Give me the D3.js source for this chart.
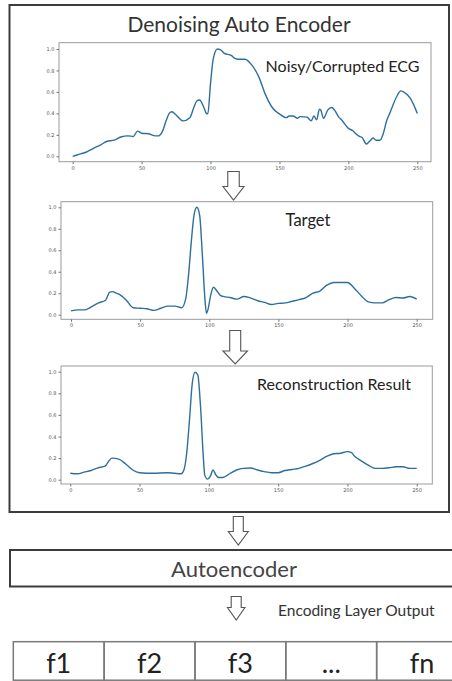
<!DOCTYPE html>
<html>
<head>
<meta charset="utf-8">
<script src="https://cdn.jsdelivr.net/npm/d3@7"></script>
<style>
  html, body { margin: 0; padding: 0; background: #fff; }
  svg { display: block; }
</style>
</head>
<body>
<svg id="chart" width="452" height="681"></svg>
<script>
// ---------------- DATA ----------------
const title = "Denoising Auto Encoder";
const panelLabels = ["Noisy/Corrupted ECG", "Target", "Reconstruction Result"];
const xTicks = [0, 50, 100, 150, 200, 250];
const yTicks = [0.0, 0.2, 0.4, 0.6, 0.8, 1.0];

const noisyX = [0,5,10,15,20,25,30,35,40,44,47,50,55,60,62,65,68,70,72,75,80,85,88,90,92,95,97,98,100,102,105,107,110,115,118,120,125,130,135,140,145,150,155,157,160,163,165,170,173,175,177,179,180,182,185,188,190,193,195,200,203,205,208,210,213,215,218,220,223,225,228,230,235,238,240,245,250];
const noisyY = [0.0,0.02,0.04,0.075,0.105,0.14,0.15,0.18,0.19,0.185,0.235,0.215,0.21,0.19,0.19,0.23,0.34,0.40,0.415,0.385,0.33,0.36,0.46,0.515,0.525,0.46,0.40,0.395,0.68,0.91,1.0,0.995,0.96,0.94,0.91,0.905,0.905,0.85,0.74,0.57,0.45,0.395,0.36,0.375,0.375,0.355,0.37,0.365,0.33,0.375,0.34,0.44,0.43,0.355,0.43,0.455,0.43,0.365,0.34,0.26,0.24,0.215,0.185,0.175,0.115,0.135,0.17,0.15,0.15,0.2,0.34,0.40,0.555,0.61,0.60,0.54,0.40];

const targetX = [0,5,10,15,20,25,28,30,33,35,40,45,50,55,60,65,70,75,80,83,85,87,89,91,93,95,97,98,99,101,103,105,108,110,115,120,125,130,135,140,145,150,155,160,165,170,175,180,185,190,195,200,205,210,215,220,225,230,235,240,245,250];
const targetY = [0.035,0.045,0.045,0.075,0.11,0.135,0.21,0.215,0.20,0.19,0.135,0.065,0.06,0.055,0.04,0.06,0.08,0.08,0.065,0.15,0.37,0.68,0.93,1.0,0.93,0.555,0.12,0.012,0.045,0.18,0.255,0.23,0.18,0.17,0.16,0.145,0.17,0.155,0.13,0.115,0.095,0.105,0.11,0.125,0.14,0.16,0.2,0.22,0.275,0.30,0.30,0.30,0.245,0.175,0.12,0.11,0.11,0.14,0.16,0.155,0.17,0.145];

const reconX = [0,5,10,15,20,25,28,30,35,40,45,50,60,70,75,80,82,84,86,88,90,92,94,96,97,99,101,103,105,107,110,115,120,125,130,135,140,145,150,155,160,165,170,175,180,185,190,195,200,203,205,210,215,220,225,230,235,240,245,250];
const reconY = [0.06,0.055,0.07,0.085,0.11,0.125,0.175,0.2,0.19,0.145,0.09,0.065,0.06,0.065,0.06,0.055,0.09,0.245,0.55,0.89,0.995,0.97,0.675,0.21,0.045,0.005,0.03,0.09,0.045,0.02,0.02,0.055,0.09,0.105,0.108,0.09,0.075,0.065,0.065,0.085,0.095,0.105,0.125,0.15,0.18,0.215,0.24,0.245,0.26,0.25,0.22,0.175,0.135,0.105,0.105,0.11,0.12,0.12,0.105,0.105];

const features = ["f1", "f2", "f3", "...", "fn"];
const autoencoderLabel = "Autoencoder";
const encodingLabel = "Encoding Layer Output";

// ---------------- LAYOUT ----------------
const svg = d3.select("#chart");
const FONT = "Lato, 'Open Sans', sans-serif";
const lineColor = "#2d6f9c";

// outer box
svg.append("rect").attr("x", 9.5).attr("y", 5).attr("width", 439.5).attr("height", 507)
  .attr("fill", "none").attr("stroke", "#3c3c3c").attr("stroke-width", 2);

svg.append("text").attr("x", 239).attr("y", 32).attr("text-anchor", "middle")
  .attr("font-family", FONT).attr("font-size", 21).attr("fill", "#333").text(title);

const panels = [
  { frame: [59, 42.7, 431, 161.7], xr: [72.7, 417.3], yr: [156.3, 49], xs: noisyX, ys: noisyY,
    label: panelLabels[0], lx: 342.5, ly: 72, lsize: 16 },
  { frame: [61, 201.7, 432.7, 319.3], xr: [71, 416.7], yr: [314.7, 207.3], xs: targetX, ys: targetY,
    label: panelLabels[1], lx: 308, ly: 225.5, lsize: 16.5 },
  { frame: [61, 366, 432.3, 484], xr: [70.3, 416.7], yr: [479.7, 371.7], xs: reconX, ys: reconY,
    label: panelLabels[2], lx: 334, ly: 389.5, lsize: 16 }
];

panels.forEach(p => {
  const [x0, y0, x1, y1] = p.frame;
  const x = d3.scaleLinear().domain([0, 250]).range(p.xr);
  const y = d3.scaleLinear().domain([0, 1]).range(p.yr);
  const g = svg.append("g");

  const line = d3.line().x((d, i) => x(p.xs[i])).y(d => y(d)).curve(d3.curveMonotoneX);
  g.append("path").datum(p.ys).attr("d", line).attr("fill", "none")
    .attr("stroke", lineColor).attr("stroke-width", 1.4).attr("stroke-linejoin", "round");

  g.append("rect").attr("x", x0).attr("y", y0).attr("width", x1 - x0).attr("height", y1 - y0)
    .attr("fill", "none").attr("stroke", "#9a9a9a").attr("stroke-width", 1);

  const xa = g.append("g").attr("transform", `translate(0,${y1})`)
    .call(d3.axisBottom(x).tickValues(xTicks).tickSize(2.5).tickPadding(2).tickFormat(d3.format("d")));
  const ya = g.append("g").attr("transform", `translate(${x0},0)`)
    .call(d3.axisLeft(y).tickValues(yTicks).tickSize(2.5).tickPadding(2).tickFormat(d3.format(".1f")));
  [xa, ya].forEach(a => {
    a.select(".domain").remove();
    a.selectAll("line").attr("stroke", "#777");
    a.selectAll("text").attr("font-family", "'DejaVu Sans', sans-serif").attr("font-size", 5).attr("fill", "#555");
  });

  g.append("text").attr("x", p.lx).attr("y", p.ly).attr("text-anchor", "middle")
    .attr("font-family", FONT).attr("font-size", p.lsize).attr("fill", "#222").text(p.label);
});

// hollow block arrows
function arrow(cx, top, headY, tip, shaftW, headW) {
  const d = [
    [cx - shaftW / 2, top], [cx + shaftW / 2, top], [cx + shaftW / 2, headY],
    [cx + headW / 2, headY], [cx, tip], [cx - headW / 2, headY], [cx - shaftW / 2, headY]
  ];
  svg.append("path").attr("d", d3.line()(d) + "Z").attr("fill", "#fff")
    .attr("stroke", "#555").attr("stroke-width", 1.1).attr("stroke-linejoin", "miter");
}
arrow(233.5, 171.5, 186.5, 200, 11.5, 21);
arrow(235.2, 330.5, 351, 364, 11, 24.5);
arrow(238.3, 516.5, 531.5, 545, 10, 20);
arrow(236.2, 596.5, 607.5, 620, 10, 17.5);

// autoencoder box
svg.append("rect").attr("x", 10).attr("y", 550).attr("width", 450).attr("height", 36.5)
  .attr("fill", "none").attr("stroke", "#3c3c3c").attr("stroke-width", 2);
svg.append("text").attr("x", 234).attr("y", 577).attr("text-anchor", "middle")
  .attr("font-family", FONT).attr("font-size", 22).attr("fill", "#444").text(autoencoderLabel);

svg.append("text").attr("x", 278).attr("y", 615.5).attr("font-family", FONT)
  .attr("font-size", 15.5).attr("fill", "#333").text(encodingLabel);

// features row
const fx = d3.scaleBand().domain(features).range([13.3, 467.5]);
const fg = svg.append("g");
fg.selectAll("rect").data(features).join("rect")
  .attr("x", d => fx(d)).attr("y", 641.7).attr("width", fx.bandwidth()).attr("height", 38.5)
  .attr("fill", "none").attr("stroke", "#7a7a7a").attr("stroke-width", 1.5);
fg.selectAll("text").data(features).join("text")
  .attr("x", d => fx(d) + fx.bandwidth() / 2).attr("y", 672.5).attr("text-anchor", "middle")
  .attr("font-family", FONT).attr("font-size", 27).attr("fill", "#222").text(d => d);
</script>
</body>
</html>
